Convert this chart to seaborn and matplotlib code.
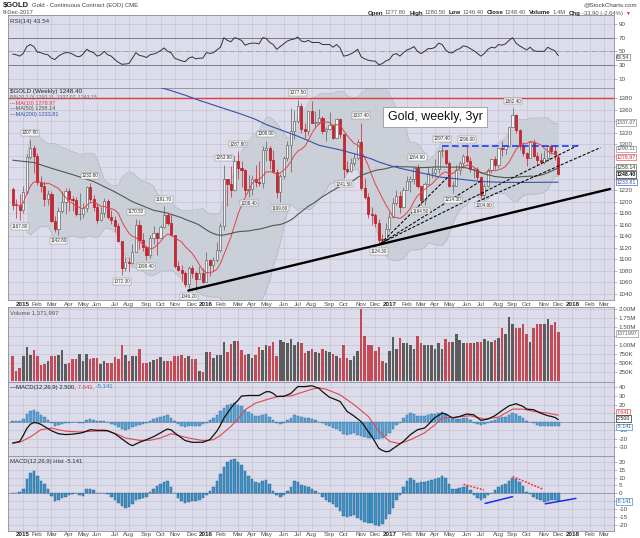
import numpy as np
import pandas as pd
import matplotlib
matplotlib.use("Agg")
import matplotlib.pyplot as plt
import seaborn as sns

# ---------------- data (weekly bars, first bar = week ending 19-Dec-2014) ----------------
first_bar = "2014-12-19"

opens = [1222, 1196, 1194, 1186, 1216, 1277, 1293, 1279, 1234, 1227,
         1204, 1213, 1167, 1152, 1184, 1199, 1219, 1204, 1203, 1178,
         1179, 1189, 1225, 1204, 1190, 1168, 1180, 1201, 1173, 1168,
         1157, 1131, 1085, 1095, 1094, 1113, 1160, 1134, 1121, 1108,
         1137, 1145, 1137, 1156, 1176, 1163, 1142, 1088, 1081, 1076,
         1056, 1085, 1076, 1066, 1076, 1061, 1098, 1090, 1098, 1116,
         1158, 1239, 1230, 1220, 1270, 1259, 1255, 1221, 1222, 1240,
         1234, 1232, 1290, 1294, 1272, 1252, 1216, 1244, 1275, 1298,
         1322, 1340, 1366, 1327, 1322, 1357, 1337, 1338, 1346, 1323,
         1327, 1334, 1310, 1344, 1317, 1257, 1254, 1267, 1276, 1304,
         1224, 1208, 1178, 1177, 1162, 1134, 1133, 1152, 1173, 1197,
         1210, 1191, 1220, 1235, 1239, 1258, 1228, 1203, 1230, 1249,
         1249, 1256, 1288, 1289, 1268, 1228, 1228, 1255, 1268, 1280,
         1271, 1256, 1256, 1242, 1212, 1228, 1255, 1274, 1264, 1294,
         1291, 1297, 1330, 1351, 1324, 1297, 1284, 1275, 1304, 1280,
         1272, 1269, 1275, 1296, 1288, 1277.8]

highs = [1225, 1204, 1214, 1227, 1282, 1307.8, 1298, 1285, 1245, 1235,
         1220, 1219, 1175, 1190, 1219, 1224, 1224, 1209, 1208, 1215,
         1197, 1228, 1232.6, 1212, 1197, 1191, 1206, 1205, 1185, 1175,
         1162, 1131, 1104, 1104, 1127, 1170.5, 1168, 1146, 1125, 1142,
         1157, 1148, 1160, 1191.7, 1180, 1179, 1142, 1096, 1090, 1080,
         1088, 1090, 1080, 1088, 1084, 1113, 1100, 1104, 1129, 1162,
         1263.9, 1240, 1262, 1280, 1287.8, 1271, 1256, 1246, 1246, 1263,
         1271, 1297, 1306, 1296, 1289, 1256, 1248, 1280, 1306, 1362,
         1360, 1377.5, 1372, 1336, 1358, 1375, 1358, 1361, 1349, 1330,
         1356, 1335, 1346, 1346, 1318, 1271, 1275, 1285, 1308, 1337.4,
         1241, 1215, 1190, 1180, 1170, 1144, 1162, 1182, 1207, 1220,
         1218, 1226, 1245, 1245, 1261, 1264.9, 1228, 1234, 1261, 1261,
         1274, 1289, 1297.4, 1290, 1270, 1236, 1264, 1270, 1283, 1296,
         1277, 1260, 1260, 1245, 1232, 1258, 1274, 1279, 1294, 1306,
         1299, 1330, 1362.4, 1352, 1327, 1304, 1286, 1306, 1308, 1287,
         1285, 1290, 1299, 1301, 1298, 1280.5]

lows = [1186, 1172, 1167.8, 1180, 1214, 1274, 1250, 1229, 1216, 1192,
        1195, 1164, 1147, 1142.6, 1180, 1178, 1183, 1183, 1175, 1168,
        1172, 1182, 1201, 1183, 1162, 1166, 1174, 1169, 1161, 1147,
        1130, 1072.3, 1079, 1080, 1091, 1112, 1118, 1115, 1098.4, 1102,
        1126, 1107, 1136, 1155, 1159, 1140, 1084, 1080, 1062, 1052,
        1046.2, 1068, 1047, 1066, 1058, 1060, 1071, 1080, 1095, 1112,
        1150, 1192, 1208, 1219, 1239, 1226, 1212, 1208.4, 1212, 1225,
        1228, 1223, 1271, 1257, 1250, 1206, 1199.6, 1240, 1270, 1252,
        1308, 1336, 1320, 1311, 1316, 1336, 1330, 1335, 1318, 1306,
        1325, 1308, 1310, 1310, 1241.5, 1250, 1252, 1262, 1273, 1220,
        1204, 1171, 1159, 1156, 1124.3, 1126, 1133, 1147, 1172, 1195,
        1180, 1189, 1220, 1216, 1230, 1223, 1194.5, 1195, 1230, 1241,
        1243, 1250, 1278, 1263, 1226, 1214.3, 1228, 1247, 1259, 1268,
        1251, 1241, 1238, 1207, 1204.9, 1226, 1250, 1257, 1258, 1280,
        1282, 1295, 1330, 1319, 1290, 1280, 1262, 1275, 1278, 1263,
        1266, 1265, 1270, 1282, 1272, 1246.4]

closes = [1195, 1194, 1186, 1216, 1277, 1293, 1279, 1234, 1227, 1204,
          1213, 1167, 1152, 1184, 1199, 1219, 1204, 1203, 1178, 1179,
          1189, 1225, 1204, 1190, 1168, 1180, 1201, 1173, 1168, 1157,
          1131, 1085, 1095, 1094, 1113, 1160, 1134, 1121, 1108, 1137,
          1145, 1137, 1156, 1176, 1163, 1142, 1088, 1081, 1076, 1056,
          1085, 1076, 1066, 1076, 1061, 1098, 1090, 1098, 1116, 1158,
          1239, 1230, 1220, 1270, 1259, 1255, 1221, 1222, 1240, 1234,
          1232, 1290, 1294, 1272, 1252, 1216, 1244, 1275, 1298, 1322,
          1340, 1366, 1327, 1322, 1357, 1337, 1338, 1346, 1323, 1327,
          1334, 1310, 1344, 1317, 1257, 1254, 1267, 1276, 1304, 1224,
          1208, 1178, 1177, 1162, 1134, 1133, 1152, 1173, 1197, 1210,
          1191, 1220, 1235, 1239, 1258, 1228, 1203, 1230, 1249, 1249,
          1256, 1288, 1289, 1268, 1228, 1228, 1255, 1268, 1280, 1271,
          1256, 1256, 1242, 1212, 1228, 1255, 1274, 1264, 1294, 1291,
          1297, 1330, 1351, 1324, 1297, 1284, 1275, 1304, 1280, 1272,
          1269, 1275, 1296, 1288, 1282.3, 1248.4]

volume_m = [0.70, 0.29, 0.38, 0.69, 0.95, 0.74, 0.86, 0.69, 0.46, 0.48,
            0.55, 0.69, 0.69, 0.74, 0.86, 0.48, 0.50, 0.63, 0.63, 0.76,
            0.57, 0.76, 0.63, 0.65, 0.65, 0.48, 0.55, 0.50, 0.50, 0.67,
            0.62, 1.00, 0.74, 0.55, 0.71, 0.71, 0.90, 0.51, 0.51, 0.53,
            0.60, 0.62, 0.68, 0.57, 0.57, 0.57, 0.71, 0.71, 0.74, 0.65,
            0.69, 0.63, 0.63, 0.29, 0.27, 0.82, 0.82, 0.65, 0.74, 0.74,
            1.08, 0.82, 1.03, 1.12, 1.12, 0.88, 0.74, 0.76, 0.65, 0.74,
            0.95, 0.88, 1.00, 0.98, 1.08, 0.70, 1.15, 1.10, 1.05, 1.18,
            1.00, 1.10, 1.05, 0.78, 0.85, 0.90, 0.82, 0.78, 0.90, 0.85,
            0.80, 0.75, 0.70, 0.65, 1.02, 0.65, 0.58, 0.70, 0.85, 2.02,
            1.25, 1.00, 1.00, 0.85, 0.95, 0.55, 0.50, 0.85, 1.22, 0.90,
            1.20, 1.05, 1.05, 1.00, 0.90, 1.25, 1.05, 1.00, 1.00, 1.00,
            0.90, 1.05, 0.90, 1.18, 1.10, 1.10, 1.30, 1.15, 1.05, 1.05,
            1.05, 1.05, 1.10, 1.10, 1.18, 1.12, 1.10, 1.15, 1.20, 1.48,
            1.30, 1.78, 1.60, 1.48, 1.48, 1.58, 1.30, 1.10, 1.48, 1.58,
            1.58, 1.60, 1.72, 1.55, 1.65, 1.372]

rsi14 = [46, 45, 43, 47, 57, 60, 57, 49, 48, 46,
         45, 40, 38, 43, 46, 48, 48, 46, 43, 42,
         46, 53, 50, 48, 43, 45, 50, 45, 43, 38,
         34, 31, 31.5, 32, 40, 48, 44, 43, 41, 45,
         46, 48, 51, 55, 50, 48, 40, 38, 36, 35,
         40, 42, 39, 40, 40, 48, 47, 48, 52, 56,
         70, 66, 64, 70, 68.5, 66, 59, 61, 62, 62,
         61, 70, 69, 63, 60, 53, 57, 61, 65, 67,
         68, 71, 65, 64, 66, 63, 63, 63, 60, 60,
         60, 56, 60, 55, 43, 44, 46, 49, 53, 42,
         39, 37, 36, 35.6, 30.5, 32, 36, 38, 45, 46.7,
         43, 48, 52, 54, 57, 50, 46.7, 50, 54, 54,
         56, 62, 60, 52, 48, 48, 52, 54, 58, 57,
         54, 51, 47, 43, 47, 53, 56, 55, 60, 59,
         61, 66, 70, 62, 58, 55, 52, 56, 51, 50,
         50, 50, 56, 53, 51, 43.54]

macd_hist = [0.3, 0.5, 1.0, 3.0, 9.0, 13.0, 14.0, 11.0, 8.0, 6.0,
             2.5, -1.5, -5.0, -4.0, -3.0, -2.0, -1.0, -0.3, 0.2, -1.0,
             -1.5, 2.5, 3.0, 2.0, 0.5, 0.3, 0.5, -0.5, -2.5, -4.0,
             -6.0, -8.0, -9.5, -8.5, -6.5, -4.5, -3.5, -3.0, -2.0, 1.0,
             3.0, 4.5, 6.0, 7.0, 7.5, 4.0, 0.5, -3.0, -5.0, -6.0,
             -5.5, -5.0, -5.0, -4.5, -3.0, -1.0, 1.5, 4.0, 8.0, 12.0,
             16.5, 19.5, 21.0, 21.5, 20.0, 18.0, 14.0, 11.0, 9.0, 7.0,
             6.5, 8.0, 8.5, 6.0, 1.5, -1.0, -2.5, -1.0, 1.5, 4.0,
             7.5, 7.0, 5.0, 4.5, 4.0, 3.0, 1.5, 0.2, -2.0, -4.0,
             -5.5, -7.0, -8.5, -11.0, -14.0, -15.0, -14.5, -13.5, -15.5, -17.0,
             -18.0, -18.5, -19.0, -20.0, -20.5, -19.5, -16.5, -13.0, -9.0, -4.0,
             -1.0, 4.0, 8.0, 10.0, 8.5, 6.5, 7.0, 7.0, 8.0, 8.5,
             9.0, 10.0, 11.0, 9.5, 6.0, 3.0, 3.0, 3.5, 4.0, 4.5,
             2.0, -1.0, -3.0, -4.0, -3.0, -1.0, 0.5, 2.0, 4.0, 5.0,
             6.0, 8.0, 10.0, 9.0, 7.0, 4.5, 1.0, -0.5, -2.0, -3.5,
             -4.5, -5.5, -5.0, -4.5, -4.5, -5.141]

macd_weeks = [0, 2, 3, 4, 5, 6, 7, 8, 10, 11,
              13, 15, 17, 19, 20, 22, 24, 26, 27, 29,
              31, 33, 34, 36, 38, 40, 42, 43, 44, 45,
              46, 48, 49, 51, 54, 56, 57, 58, 59, 60,
              61, 62, 63, 64, 65, 67, 70, 72, 73, 74,
              75, 77, 79, 80, 81, 83, 85, 86, 87, 88,
              90, 91, 93, 95, 97, 99, 100, 101, 102, 103,
              104, 105, 106, 107, 108, 109, 111, 113, 115, 117,
              118, 119, 120, 122, 123, 125, 127, 129, 131, 133,
              135, 137, 139, 141, 143, 145, 146, 148, 150, 152,
              153, 154, 155]
macd_line = [-25, -23, -16, -8, -3, -1, -1.5, -3, -8, -10.5,
             -14, -15, -14.5, -13.5, -12.5, -9.3, -10, -10, -10.5, -14,
             -20, -26, -28, -24, -21, -17.5, -13, -10.5, -8.5, -9.5,
             -13, -19, -22, -24, -24, -21, -16, -11, -4, 4.3,
             10, 16, 21, 25, 30, 30.6, 30.6, 35, 35, 33,
             29.5, 29.5, 33, 37, 41, 41, 42, 40.5, 39, 35,
             28.5, 27, 23.6, 12, 6.5, 0, -5.5, -11.5, -17, -24,
             -31, -33.5, -35, -34.5, -31.5, -28.7, -22.9, -15, -9.3, -7.4,
             -3.5, 1, 5, 10, 9, 4.3, 6.2, 9, 8, 1.6,
             3.1, 7, 13, 18.6, 21, 17.8, 14.7, 14, 10, 7,
             6.2, 5, 2.5]

signal_weeks = [0, 2, 5, 8, 11, 13, 15, 19, 23, 27,
                30, 32, 36, 39, 42, 45, 47, 50, 54, 57,
                59, 62, 64, 66, 69, 72, 76, 79, 82, 85,
                87, 89, 93, 97, 101, 104, 107, 110, 113, 117,
                120, 122, 126, 130, 134, 138, 142, 145, 148, 152,
                155]
signal_line = [-24.8, -24, -17.8, -9.3, -7.4, -9.3, -11, -12, -11, -11,
               -15, -19, -21.7, -21.7, -19, -14, -16, -19, -22, -21,
               -16, -5.4, 3.1, 14, 21.7, 25.6, 30, 30, 34, 38,
               39.5, 38, 31.4, 19.8, 6.2, -11, -22.9, -25.6, -21, -13,
               -3.5, 4.3, 5.4, 7, 3.1, 5.4, 14.7, 14.7, 12, 10,
               7.641]

ma50_early_weeks = [0, 6, 11, 17, 23, 29, 34, 40, 44, 48]
ma50_early_vals = [1272, 1268, 1258, 1247, 1235, 1217, 1200, 1185, 1180, 1172]

ma200_weeks = [40, 45, 49, 53, 57, 61, 65, 69, 72, 76, 80, 84, 87, 90, 93, 96, 99,
               102, 104, 107, 110, 113, 116, 119, 121, 124, 127, 130, 133, 137,
               140, 144, 148, 152, 155]
ma200_vals = [1402, 1393, 1385, 1376, 1368, 1360, 1352, 1343, 1334, 1325, 1316, 1306,
              1298, 1294, 1290, 1285, 1280, 1274, 1269, 1263, 1258, 1254, 1250, 1246,
              1243, 1241, 1239, 1237, 1235, 1234, 1233.5, 1233.4, 1233.5, 1233.7, 1233.81]

# labelled swing highs / lows
peak_weeks = [5, 22, 35, 43, 60, 64, 72, 81, 99, 115, 122, 129, 142]
peak_vals = [1307.80, 1232.60, 1170.50, 1191.70, 1263.90, 1287.80, 1306.00, 1377.50,
             1337.40, 1264.90, 1297.40, 1296.00, 1362.40]
trough_weeks = [2, 13, 31, 38, 50, 67, 76, 94, 104, 116, 125, 134]
trough_vals = [1167.80, 1142.60, 1072.30, 1098.40, 1046.20, 1208.40, 1199.60,
               1241.50, 1124.30, 1194.50, 1214.30, 1204.90]

# hand-drawn trend lines (week, price)
support_line = [(49.9, 1045.4), (169.7, 1222.0)]
dashed_lines = [[(104.5, 1127), (124, 1245)],
                [(104.5, 1127), (133, 1236)],
                [(105, 1129), (161, 1299)],
                [(132, 1200), (167, 1294)]]
resistance_line = [(122, 1297.4), (160.7, 1297.4)]
red_level = 1380
hist_red_lines = [[(128.1, 5.7), (133.9, 2.1)], [(142.0, 10.6), (150.7, 2.6)]]
hist_blue_lines = [[(134.2, -6.4), (142.0, -2.1)], [(151.3, -6.6), (160.0, -3.2)]]

for arr in (opens, highs, lows, closes, volume_m, rsi14, macd_hist):
    assert len(arr) == 156, len(arr)

# ---------------- style ----------------
sns.set_style("white")
plt.rcParams['font.family'] = ['Liberation Sans', 'DejaVu Sans']
plt.rcParams['axes.unicode_minus'] = False

W, H = 640, 538
fig = plt.figure(figsize=(6.4, 5.38), dpi=100)
fig.patch.set_facecolor('white')

BG = '#dcdcea'
GRID = '#c4c4d6'
SPINE = '#8c8c9c'
TXT = '#4a4a4a'
XL = (-1.25, 170.9)

n = len(closes)
weeks = np.arange(n)
o = np.array(opens, float)
h = np.array(highs, float)
l = np.array(lows, float)
c = np.array(closes, float)
cs = pd.Series(c)
ma10 = cs.rolling(10, min_periods=1).mean()
bb_mid = cs.rolling(20, min_periods=5).mean()
bb_sd = cs.rolling(20, min_periods=5).std(ddof=0)
bb_up = bb_mid + 2 * bb_sd
bb_lo = bb_mid - 2 * bb_sd
ma50_roll = cs.rolling(50).mean()
ma50_x = list(ma50_early_weeks) + list(weeks[49:])
ma50_y = list(ma50_early_vals) + list(ma50_roll.values[49:])

# month ticks: first full trading week of each month
base = pd.Timestamp(first_bar)
tick_w, tick_lab = [], []
for m in pd.date_range('2015-01-01', '2018-03-01', freq='MS'):
    mon = m + pd.Timedelta(days=(0 - m.weekday()) % 7)
    fri = mon + pd.Timedelta(days=4)
    tick_w.append((fri - base).days / 7.0)
    tick_lab.append(str(m.year) if m.month == 1 else m.strftime('%b'))


def add_ax(top, bottom):
    return fig.add_axes([8.3 / W, 1 - bottom / H, (614.3 - 8.3) / W, (bottom - top) / H])


def style(ax, ylim, yticks, ylabels, show_x=False):
    ax.set_facecolor(BG)
    ax.set_xlim(XL)
    ax.set_ylim(ylim)
    ax.set_xticks(tick_w)
    ax.set_yticks(yticks)
    ax.yaxis.tick_right()
    ax.set_yticklabels(ylabels)
    ax.tick_params(axis='y', length=2, width=0.4, pad=1, colors='#8a8a8a',
                   labelcolor=TXT, labelsize=4.5)
    ax.tick_params(axis='x', length=0, pad=1.2, labelsize=4.5, labelcolor=TXT)
    ax.grid(True, color=GRID, lw=0.5)
    ax.set_axisbelow(True)
    for sp in ax.spines.values():
        sp.set_color(SPINE)
        sp.set_linewidth(0.6)
    ax.set_xlabel('')
    ax.set_ylabel('')
    if show_x:
        ax.set_xticklabels(tick_lab)
        for t in ax.get_xticklabels():
            if t.get_text().isdigit():
                t.set_fontweight('bold')
                t.set_color('#222222')
    else:
        ax.set_xticklabels([])


def tag(ax, val, txt, ec, tc, dy=0.0, bold=False):
    ax.annotate(txt, xy=(1.0, val), xycoords=('axes fraction', 'data'),
                xytext=(1.5, dy), textcoords='offset points', fontsize=3.8, color=tc,
                va='center', ha='left', fontweight='bold' if bold else 'normal',
                bbox=dict(boxstyle='square,pad=0.15', fc='white', ec=ec, lw=0.45),
                annotation_clip=False, zorder=10)


def ft(x, y, s, **kw):
    kw.setdefault('va', 'center')
    return fig.text(x / W, 1 - y / H, s, **kw)


# ---------------- RSI panel ----------------
ax_rsi = add_ax(15, 88.3)
style(ax_rsi, (-4.1, 103.2), [10, 30, 50, 70, 90], ['10', '30', '50', '70', '90'])
ax_rsi.axhline(70, color='#7c7c8c', lw=0.7, zorder=1)
ax_rsi.axhline(30, color='#7c7c8c', lw=0.7, zorder=1)
ax_rsi.axhline(50, color='#9a9aaa', lw=0.6, ls='-.', zorder=1)
sns.lineplot(x=weeks, y=rsi14, ax=ax_rsi, color='#333333', linewidth=0.7, legend=False)
style(ax_rsi, (-4.1, 103.2), [10, 30, 50, 70, 90], ['10', '30', '50', '70', '90'])
tag(ax_rsi, rsi14[-1], '43.54', '#666666', '#333333', dy=-1.0)

# ---------------- Price panel ----------------
ax_p = add_ax(88.3, 300)
ax_p.fill_between(weeks, bb_lo, bb_up, color='#c8cdd5', alpha=0.85, lw=0, zorder=1)
ax_p.plot(weeks, bb_up, color='#b0b9c3', lw=0.5, zorder=1.5)
ax_p.plot(weeks, bb_lo, color='#b0b9c3', lw=0.5, zorder=1.5)
ax_p.axhline(red_level, color='#e03a40', lw=1.0, zorder=2)

up = c >= o
ax_p.vlines(weeks[up], l[up], h[up], colors='#5e5e5e', lw=0.5, zorder=3)
ax_p.vlines(weeks[~up], l[~up], h[~up], colors='#c4242e', lw=0.5, zorder=3)
body_b = np.minimum(o, c)
body_h = np.maximum(np.abs(c - o), 1.2)
ax_p.bar(weeks[up], body_h[up], bottom=body_b[up], width=0.62, color='#f3f3f6',
         edgecolor='#5a5a5a', linewidth=0.45, zorder=4)
ax_p.bar(weeks[~up], body_h[~up], bottom=body_b[~up], width=0.62, color='#d2222e',
         edgecolor='#a8141e', linewidth=0.45, zorder=4)

sns.lineplot(x=weeks, y=ma10.values, ax=ax_p, color='#e0444a', linewidth=0.7, legend=False, zorder=5)
sns.lineplot(x=ma50_x, y=ma50_y, ax=ax_p, color='#4d5b50', linewidth=0.8, legend=False, zorder=5)
sns.lineplot(x=ma200_weeks, y=ma200_vals, ax=ax_p, color='#3552a8', linewidth=0.8, legend=False, zorder=5)

(x0, y0), (x1, y1) = support_line
ax_p.plot([x0, x1], [y0, y1], color='black', lw=1.7, zorder=6, solid_capstyle='round')
for seg in dashed_lines:
    ax_p.plot([seg[0][0], seg[1][0]], [seg[0][1], seg[1][1]], color='black', lw=0.75,
              ls=(0, (3, 1.6)), zorder=6)
ax_p.plot([resistance_line[0][0], resistance_line[1][0]],
          [resistance_line[0][1], resistance_line[1][1]], color='#1f3cff', lw=1.2,
          ls=(0, (4, 2)), zorder=6)

lbl_box = dict(boxstyle='square,pad=0.15', fc='#f7f7f7', ec='#8a8a8a', lw=0.35)
for wk, v in zip(peak_weeks, peak_vals):
    ax_p.text(wk, v + 12, f"{v:.2f}", fontsize=3.3, ha='center', va='center',
              color='#333333', bbox=lbl_box, zorder=7)
for wk, v in zip(trough_weeks, trough_vals):
    ax_p.text(wk, v - 11, f"{v:.2f}", fontsize=3.3, ha='center', va='center',
              color='#333333', bbox=lbl_box, zorder=7)

ax_p.text(120, 1347, "Gold, weekly, 3yr", fontsize=9, ha='center', va='center',
          color='#111111', zorder=8,
          bbox=dict(boxstyle='square,pad=0.35', fc='white', ec='#9a9a9a', lw=0.6))

pt = list(range(1040, 1381, 20))
pl = ['' if v in (1340, 1280, 1260, 1240) else str(v) for v in pt]
style(ax_p, (1029, 1397), pt, pl, show_x=True)
tag(ax_p, 1337.07, '1337.07', '#8a8a8a', '#555555')
tag(ax_p, 1290.11, '1290.11', '#8a8a8a', '#555555', dy=0.6)
tag(ax_p, 1278.97, '1278.97', '#e0444a', '#d02a30', dy=-0.6)
tag(ax_p, 1258.14, '1258.14', '#4d5b50', '#333333', dy=0.8)
tag(ax_p, 1248.40, '1248.40', '#111111', '#111111', dy=-0.6, bold=True)
tag(ax_p, 1233.81, '1233.81', '#3552a8', '#3552a8')

# ---------------- Volume panel ----------------
ax_v = add_ax(307, 382.3)
prev = np.concatenate([[c[0] + 1], c[:-1]])
vcol = np.where(c < prev, '#c44a56', '#5c5c5c')
ax_v.bar(weeks, volume_m, width=0.72, color=vcol, linewidth=0, zorder=3)
vt = [0.25, 0.5, 0.75, 1.0, 1.25, 1.5, 1.75, 2.0]
vl = ['250K', '500K', '750K', '1.00M', '', '1.50M', '1.75M', '2.00M']
style(ax_v, (-0.03, 2.064), vt, vl)
tag(ax_v, volume_m[-1], '1371997', '#8a8a8a', '#555555', dy=-1.2)

# ---------------- MACD panel ----------------
ax_m = add_ax(382.3, 456)
ax_m.bar(weeks, macd_hist, width=0.72, color='#5ba3d3', edgecolor='#2e6f9f',
         linewidth=0.3, zorder=3)
ax_m.axhline(0, color='#8a8aa0', lw=0.5, zorder=2)
sns.lineplot(x=signal_weeks, y=signal_line, ax=ax_m, color='#e2474d', linewidth=0.8, legend=False, zorder=5)
sns.lineplot(x=macd_weeks, y=macd_line, ax=ax_m, color='#111111', linewidth=0.9, legend=False, zorder=6)
mt = [-30, -20, -10, 0, 10, 20, 30, 40]
ml = ['-30', '-20', '-10', '', '', '20', '30', '40']
style(ax_m, (-40, 46), mt, ml)
tag(ax_m, 7.641, '7.641', '#e2474d', '#d02a30', dy=2.2)
tag(ax_m, 2.5, '2.500', '#111111', '#111111', dy=0.6)
tag(ax_m, -5.141, '-5.141', '#3a7fc0', '#2a5f9a', dy=-0.6)

# ---------------- MACD histogram panel ----------------
ax_h = add_ax(456, 530.7)
ax_h.bar(weeks, macd_hist, width=0.72, color='#3f91c6', edgecolor='#245f8c',
         linewidth=0.3, zorder=3)
ax_h.axhline(0, color='#8a8aa0', lw=0.5, zorder=2)
for seg in hist_red_lines:
    ax_h.plot([seg[0][0], seg[1][0]], [seg[0][1], seg[1][1]], color='#ff2a2a', lw=1.1,
              ls=(0, (1.2, 1.0)), zorder=6)
for seg in hist_blue_lines:
    ax_h.plot([seg[0][0], seg[1][0]], [seg[0][1], seg[1][1]], color='#1a2fe6', lw=1.1, zorder=6)
ht = [-20, -15, -10, -5, 0, 5, 10, 15, 20]
hl = ['-20', '-15', '-10', '', '0', '5', '10', '15', '20']
style(ax_h, (-23.6, 23.6), ht, hl, show_x=True)
tag(ax_h, -5.141, '-5.141', '#3a7fc0', '#2a5f9a')

# ---------------- header & panel labels ----------------
fig.canvas.draw()
renderer = fig.canvas.get_renderer()

t0 = ft(3, 5, "$GOLD", fontsize=5.5, fontweight='bold', color='#222222')
x_after = 3 + t0.get_window_extent(renderer).width + 3
ft(x_after, 5, "Gold - Continuous Contract (EOD) CME", fontsize=4.3, color='#444444')
ft(637, 5, "@StockCharts.com", fontsize=4.5, ha='right', color='#444444')
ft(3, 12.5, "8-Dec-2017", fontsize=4.2, color='#444444')

xpos = 368.0
for lab, val in [("Open", "1277.80"), ("High", "1280.50"), ("Low", "1246.40"),
                 ("Close", "1248.40"), ("Volume", "1.4M"), ("Chg", "-33.90 (-2.64%)")]:
    t1 = ft(xpos, 13, lab, fontsize=4.4, fontweight='bold', color='#222222')
    xpos += t1.get_window_extent(renderer).width + 1.5
    t2 = ft(xpos, 13, val, fontsize=4.2, color='#555555')
    xpos += t2.get_window_extent(renderer).width + 3
ft(xpos - 1, 13, "\u25bc", fontsize=3.5, color='#e02020')

ft(10, 21.5, "RSI(14) 43.54", fontsize=4.5, color='#333333')
ft(10, 91.5, "$GOLD (Weekly) 1248.40", fontsize=4.5, color='#222222')
ft(10, 97, "BB(20,2.0) 1290.11, 1337.07, 1243.15", fontsize=3.7, color='#777777')
ft(10, 103.5, "\u2014MA(10) 1278.97", fontsize=4.0, color='#d63a40')
ft(10, 109, "\u2014MA(50) 1258.14", fontsize=4.0, color='#4d5b50')
ft(10, 114.5, "\u2014MA(200) 1233.81", fontsize=4.0, color='#3552a8')
ft(10, 313, "Volume 1,371,997", fontsize=4.3, color='#555555')

xpos = 10.0
for s_, col in [("\u2014MACD(12,26,9) 2.500,", '#222222'), (" 7.641,", '#d63a40'),
                (" -5.141", '#3a7fc0')]:
    t = ft(xpos, 387, s_, fontsize=4.3, color=col)
    xpos += t.get_window_extent(renderer).width
ft(10, 461.5, "MACD(12,26,9) Hist -5.141", fontsize=4.3, color='#333333')

fig.savefig("out.png", dpi=100, facecolor='white')
